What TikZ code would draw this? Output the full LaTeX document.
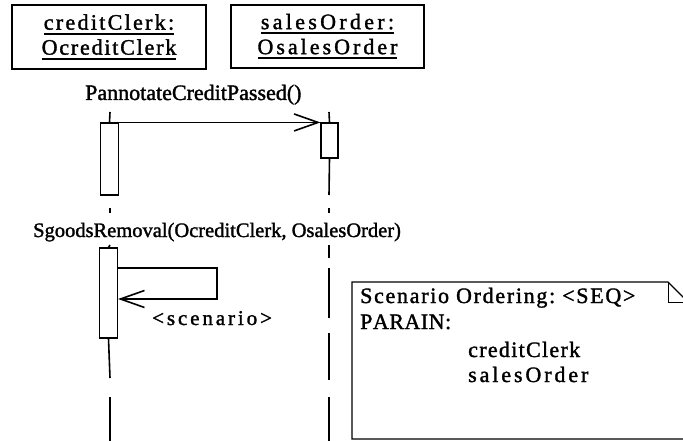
\documentclass[tikz,border=0pt]{standalone}
\usepackage{fontspec}
\setmainfont[FakeBold=1.5]{Liberation Serif}
\usetikzlibrary{arrows.meta}

% letter-spaced word: a kern of #1 after every character
\makeatletter
\newcommand\spaced[2]{\def\sp@k{#1}\@tfor\sp@c:=#2\do{\sp@c\kern\sp@k}\unkern}
\makeatother

% thick underline for object names
\newcommand\objul[1]{\leavevmode\setbox0=\hbox{#1}\rlap{\vrule width\wd0 height -3pt depth 5pt}\box0}

\tikzset{
  objbox/.style={draw, line width=1.7pt, inner sep=0pt, align=center,
    font=\fontsize{22}{24}\selectfont},
  activation/.style={draw, line width=1.1pt, fill=white, inner sep=0pt, minimum width=18pt},
  lifeline/.style={line width=1.6pt},
  msg/.style={line width=1.6pt, -{Straight Barb[length=24pt, width=17pt, line width=1.6pt]}},
  msglabel/.style={inner sep=0pt, anchor=base west, font=\fontsize{22}{26}\selectfont},
  notebox/.style={line width=1.4pt},
  notetext/.style={inner sep=0pt, anchor=base west, font=\fontsize{22}{26}\selectfont},
}

\begin{document}
\begin{tikzpicture}[x=1pt, y=-1pt]
  \useasboundingbox (0,0) rectangle (683,441);
  \clip (0,0) rectangle (683,441);

  % object boxes
  \node[objbox, minimum width=194pt, minimum height=64pt] (clerk) at (109,37)
    {\objul{\spaced{2.3pt}{creditClerk:}}\\[1pt]\objul{\spaced{1.8pt}{OcreditClerk}}};
  \node[objbox, minimum width=193pt, minimum height=63pt] (order) at (327.5,36.5)
    {\objul{\spaced{3.3pt}{salesOrder:}}\\[1pt]\objul{\spaced{3pt}{OsalesOrder}}};

  % activations
  \node[activation, minimum height=72pt] (act1) at (109.5,159) {};
  \node[activation, minimum width=17pt, minimum height=35pt] (act2) at (329.5,140.5) {};
  \node[activation, minimum height=90pt] (act3) at (108.5,293) {};

  % lifeline of creditClerk
  \draw[lifeline] (110,112) -- (act1.north);
  \draw[lifeline] (110,208) -- (110,213);
  \draw[lifeline] (110,245) -- (act3.north);
  \draw[lifeline] (act3.south) -- (110,378);
  \draw[lifeline] (110,397) -- (110,441);

  % lifeline of salesOrder
  \draw[lifeline] (329,112) -- (act2.north);
  \draw[lifeline] (act2.south) -- (329,195);
  \draw[lifeline] (329,208) -- (329,213);
  \draw[lifeline] (329,245) -- (329,258);
  \draw[lifeline] (329,268) -- (329,318);
  \draw[lifeline] (329,333) -- (329,380);
  \draw[lifeline] (329,397) -- (329,441);

  % messages
  \node[msglabel] (m1) at (85,100) {PannotateCreditPassed()};
  \draw[msg] (act1.north east) -- (act2.north west);

  \node[msglabel, font=\fontsize{20.5}{25}\selectfont] (m2) at (33,237)
    {SgoodsRemoval(OcreditClerk, OsalesOrder)};
  \coordinate (turn) at (217,283);
  \draw[msg] (act3.east |- 0,268) -| (turn) |- (act3.east |- 0,299);
  \node[msglabel, font=\fontsize{21}{25}\selectfont] (scen) at (152,325) {\spaced{2.9pt}{<scenario>}};

  % note
  \draw[notebox] (690,439) -- (352,439) -- (352,282) -- (668,282) -- (690,304) -- cycle;
  \draw[notebox, line width=1pt] (668,282) -- (668,302) -- (690,302);
  \node[notetext] (n1) at (360,303)
    {\spaced{1.7pt}{Scenario}\hspace{7pt}\spaced{1.7pt}{Ordering:}\hspace{7pt}\spaced{1.7pt}{<SEQ>}};
  \node[notetext] (n2) at (360,329) {\spaced{0.5pt}{PARAIN:}};
  \node[notetext] (n3) at (468,357) {\spaced{1.3pt}{creditClerk}};
  \node[notetext] (n4) at (468,382) {\spaced{2.9pt}{salesOrder}};
\end{tikzpicture}
\end{document}
